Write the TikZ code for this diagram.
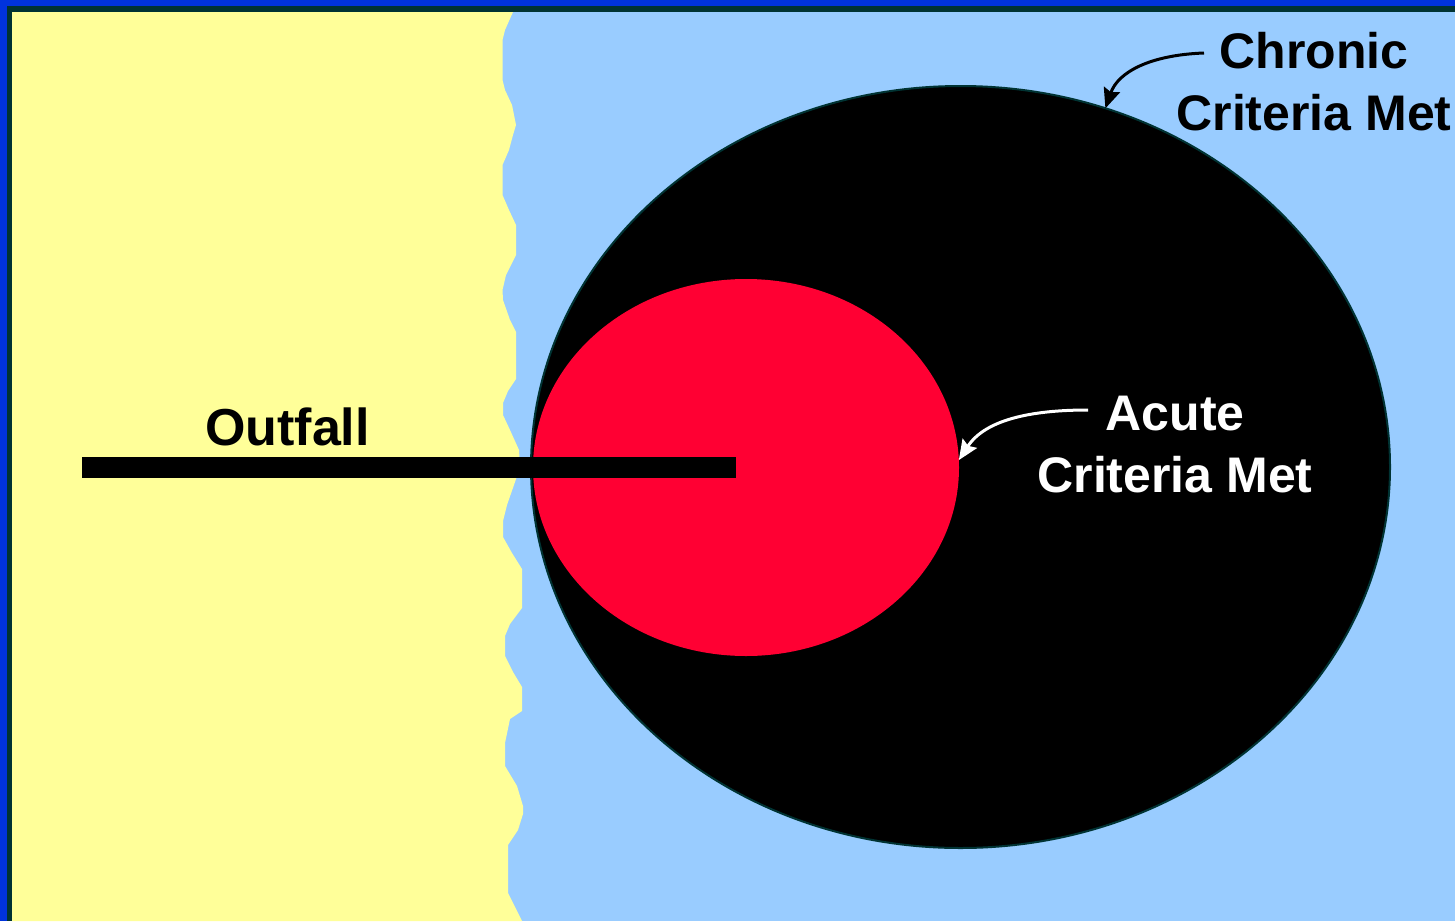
\documentclass[tikz,border=0pt]{standalone}
\usepackage{fontspec}
\setmainfont{Liberation Sans}
\usetikzlibrary{shapes.geometric,arrows.meta}
\definecolor{frameblue}{HTML}{0033DD}
\definecolor{frameteal}{HTML}{003333}
\definecolor{sand}{HTML}{FFFF99}
\definecolor{water}{HTML}{99CCFF}
\definecolor{plume}{HTML}{FF0033}
\tikzset{
  zone/.style={ellipse, inner sep=0pt, outer sep=0pt},
  lbl/.style={font=\fontsize{50}{62}\selectfont\bfseries, align=center, inner sep=0pt, anchor=base},
  pointer/.style={line width=3pt, -{Stealth[length=20pt,width=17pt,inset=3pt]}},
}
\begin{document}
\begin{tikzpicture}[x=1pt,y=-1pt]
\useasboundingbox (0,0) rectangle (1455,921);
% frame
\fill[frameblue] (0,0) rectangle (1455,921);
\fill[frameteal] (7,6) rectangle (1455,921);
\fill[water] (12,12) rectangle (1455,921);
% shore
\fill[sand] (12,12) -- (513,12) -- (505,30) -- (502.5,40) -- (502.5,80) -- (505,90) -- (512,105) -- (516,125) -- (513,135) -- (509,150) -- (502.5,165) -- (502.5,195) -- (509,210) -- (516,225) -- (516,255) -- (506,275) -- (502.5,290) -- (503,300) -- (510,320) -- (516,332) -- (516,379) -- (508,391) -- (503,403) -- (503,415) -- (510,430) -- (519,450) -- (520,467) -- (515,482) -- (507,505) -- (503,521) -- (503,537) -- (512,553) -- (522,569) -- (522,608) -- (510,624) -- (505,636) -- (505,656) -- (513,672) -- (522,687) -- (522,711) -- (510,719) -- (505,743) -- (505,766) -- (517,786) -- (523,806) -- (523,814) -- (518,830) -- (508,845) -- (508,893) -- (522,921) -- (12,921) -- cycle;
% zones
\node[zone, fill=black, draw=frameteal, line width=2pt, minimum width=859pt, minimum height=762pt] (chronicZone) at (960.5,467) {};
\node[zone, fill=plume, minimum width=426pt, minimum height=377pt] (acuteZone) at (746,467.5) {};
% outfall pipe
\coordinate (pipeStart) at (82,467);
\coordinate (pipeEnd) at (736,467);
\draw[line width=21pt, line cap=butt] (pipeStart) -- (pipeEnd);
% labels
\node[lbl] (outfall) at (287.5,445) {\fontsize{52}{62}\selectfont Outfall};
\node[lbl] (chronic) at (1314,130) {Chronic\\Criteria Met};
\node[lbl, text=white] (acute) at (1175,492) {Acute\\Criteria Met};
% pointers
\coordinate (chronicTail) at (1204,53);
\coordinate (acuteTail) at (1088,410);
\draw[pointer, black] (chronicTail) .. controls (1150,55) and (1118,72) .. (chronicZone.68.7);
\draw[pointer, white] (acuteTail) .. controls (1030,410) and (985,420) .. (acuteZone.2);
\end{tikzpicture}
\end{document}
